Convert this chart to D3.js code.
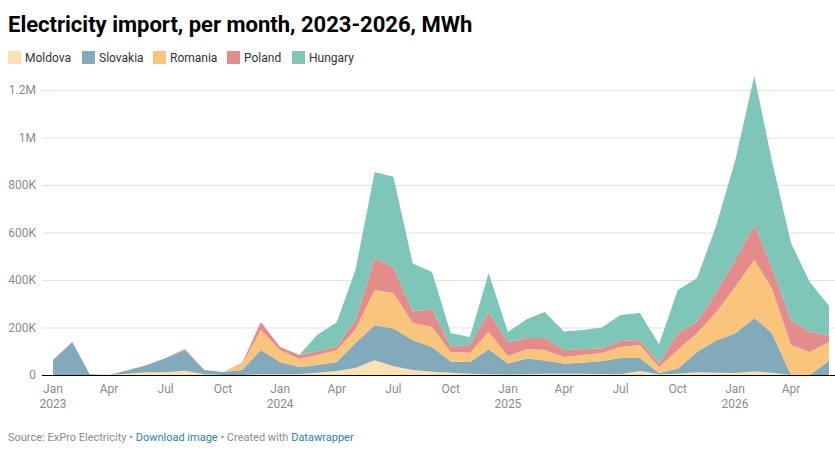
<!DOCTYPE html>
<html>
<head>
<meta charset="utf-8">
<script src="https://cdn.jsdelivr.net/npm/d3@7"></script>
<style>
	body { margin: 0; background: #fff; font-family: Roboto, 'Noto Sans', sans-serif; }
	svg text { font-family: Roboto, 'Noto Sans', sans-serif; }
</style>
</head>
<body>
<svg id="chart" width="835" height="449"></svg>
<script>
// values in thousand MWh, Jan 2023 .. Jun 2026
const countries = ['Moldova', 'Slovakia', 'Romania', 'Poland', 'Hungary']
const colors = ['#fde1b3', '#82aabb', '#f9c57c', '#e38c8b', '#7dc6b8']

const moldova = [0, 0, 0, 0, 5, 12, 12, 18, 3, 0, 0, 3, 3, 3, 10, 17, 30, 62, 37, 21, 14, 10, 5, 3, 2, 3, 5, 5, 5, 4, 3, 17, 3, 5, 12, 10, 8, 15, 10, 0, 0, 0]
const slovakia = [63, 139, 3, 0, 15, 30, 60, 86, 18, 13, 21, 102, 52, 31, 32, 38, 105, 148, 159, 126, 104, 47, 50, 105, 46, 67, 56, 43, 47, 55, 69, 55, 5, 22, 85, 135, 167, 225, 167, 0, 0, 60]
const romania = [0, 0, 0, 0, 0, 0, 0, 0, 0, 0, 25, 84, 50, 33, 42, 50, 57, 148, 149, 72, 84, 40, 39, 73, 32, 39, 44, 28, 32, 34, 46, 54, 26, 78, 80, 116, 196, 244, 189, 126, 97, 79]
const poland = [0, 0, 0, 0, 0, 0, 0, 6, 0, 0, 5, 34, 13, 17, 16, 15, 40, 134, 110, 48, 76, 23, 32, 84, 59, 47, 51, 29, 24, 20, 25, 21, 16, 72, 48, 84, 113, 148, 89, 106, 84, 27]
const hungary = [0, 0, 0, 0, 0, 0, 0, 0, 0, 0, 0, 0, 0, 1, 70, 102, 210, 363, 380, 203, 156, 57, 34, 164, 42, 80, 109, 78, 82, 87, 110, 114, 80, 181, 183, 278, 416, 628, 450, 324, 211, 126]

const yTicks = [0, 200000, 400000, 600000, 800000, 1000000, 1200000]
const yTickLabels = ['0', '200K', '400K', '600K', '800K', '1M', '1.2M']

const series = [moldova, slovakia, romania, poland, hungary]
const months = moldova.map((v, i) => new Date(Date.UTC(2023, i, 1)))
const rows = months.map((d, i) => {
	const r = { date: d }
	countries.forEach((c, k) => (r[c] = series[k][i] * 1000))
	return r
})

const svg = d3.select('#chart')

const x = d3
	.scaleUtc()
	.domain([months[0], months[months.length - 1]])
	.range([53, 829])
const y = d3.scaleLinear().domain([0, 1200000]).range([375, 90])

// title
svg.append('text')
	.attr('x', 8)
	.attr('y', 32)
	.attr('font-size', 22)
	.attr('font-weight', 700)
	.attr('fill', '#000')
	.text('Electricity import, per month, 2023-2026, MWh')

// legend
const legendX = [8, 82, 153, 227, 292]
const legend = svg
	.append('g')
	.selectAll('g')
	.data(countries)
	.enter()
	.append('g')
	.attr('transform', (d, i) => `translate(${legendX[i]},51)`)
legend.append('rect').attr('width', 13).attr('height', 13).attr('fill', (d, i) => colors[i])
legend.append('text')
	.attr('x', 17)
	.attr('y', 11)
	.attr('font-size', 12)
	.attr('fill', '#333')
	.text(d => d)

// grid + y labels
const grid = svg.append('g')
grid.selectAll('line')
	.data(yTicks.slice(1))
	.enter()
	.append('line')
	.attr('x1', 42)
	.attr('x2', 835)
	.attr('y1', d => y(d) + 0.5)
	.attr('y2', d => y(d) + 0.5)
	.attr('stroke', '#e1e1e1')
grid.selectAll('text')
	.data(yTicks)
	.enter()
	.append('text')
	.attr('x', 36)
	.attr('y', d => y(d) + 4)
	.attr('text-anchor', 'end')
	.attr('font-size', 12)
	.attr('fill', '#8b8b8b')
	.text((d, i) => yTickLabels[i])

// stacked areas
const stack = d3.stack().keys(countries)
const area = d3
	.area()
	.x(d => x(d.data.date))
	.y0(d => y(d[0]))
	.y1(d => y(d[1]))
svg.append('g')
	.selectAll('path')
	.data(stack(rows))
	.enter()
	.append('path')
	.attr('d', area)
	.attr('fill', (d, i) => colors[i])

// baseline
svg.append('line')
	.attr('x1', 42)
	.attr('x2', 835)
	.attr('y1', y(0) + 0.5)
	.attr('y2', y(0) + 0.5)
	.attr('stroke', '#000')
	.attr('stroke-width', 1.2)

// x axis labels
const xTicks = months.filter(d => d.getUTCMonth() % 3 == 0)
const fmtMonth = d3.utcFormat('%b')
const xl = svg
	.append('g')
	.selectAll('text')
	.data(xTicks)
	.enter()
	.append('text')
	.attr('x', d => x(d))
	.attr('y', 393)
	.attr('text-anchor', 'middle')
	.attr('font-size', 12)
	.attr('fill', '#8b8b8b')
xl.append('tspan').text(d => fmtMonth(d))
xl.filter(d => d.getUTCMonth() == 0)
	.append('tspan')
	.attr('x', d => x(d))
	.attr('dy', 15)
	.text(d => d.getUTCFullYear())

// footer
const foot = svg.append('text').attr('x', 8).attr('y', 441).attr('font-size', 11).attr('fill', '#8b8b8b')
foot.append('tspan').text('Source: ExPro Electricity • ')
foot.append('tspan').attr('fill', '#1d86a8').text('Download image')
foot.append('tspan').text(' • Created with ')
foot.append('tspan').attr('fill', '#1d86a8').text('Datawrapper')
</script>
</body>
</html>
